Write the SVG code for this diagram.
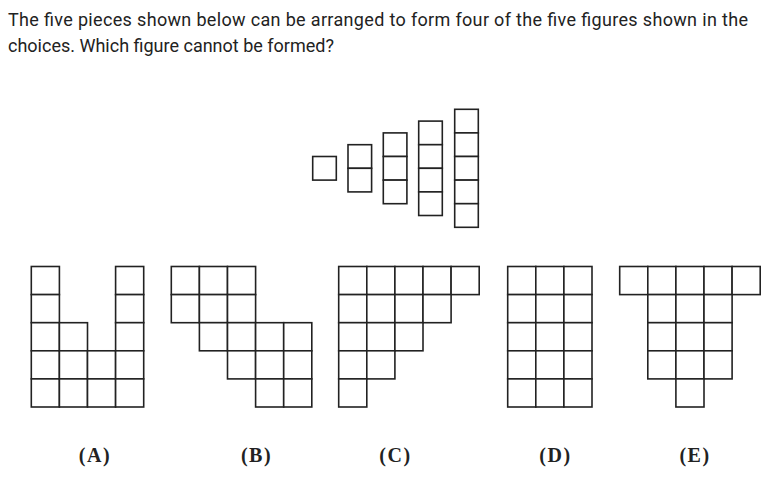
<svg xmlns="http://www.w3.org/2000/svg" xmlns:xlink="http://www.w3.org/1999/xlink" width="784" height="482" viewBox="0 0 784 482">
<style>
.q{font-family:Roboto,"Liberation Sans",sans-serif;font-size:18px;fill:#222}
.lbl{font-family:"Liberation Serif","DejaVu Serif",serif;font-size:20px;font-weight:bold;fill:#222;text-anchor:middle;letter-spacing:1.5px}
.cell{fill:#fff;stroke:#222;stroke-width:1.6}
</style>
<defs>
<rect id="c" class="cell" width="28.1" height="28.1"/>
<rect id="p" class="cell" width="23.6" height="23.6"/>
</defs>
<rect width="784" height="482" fill="#fff"/>
<text class="q" x="8" y="26" textLength="740" lengthAdjust="spacing">The five pieces shown below can be arranged to form four of the five figures shown in the</text>
<text class="q" x="8" y="52">choices. Which figure cannot be formed?</text>

<g id="pieces">
<g id="piece1"><use href="#p" x="312.7" y="156.5"/></g>
<g id="piece2"><use href="#p" x="348" y="144.7"/><use href="#p" x="348" y="168.3"/></g>
<g id="piece3"><use href="#p" x="383.3" y="132.9"/><use href="#p" x="383.3" y="156.5"/><use href="#p" x="383.3" y="180.1"/></g>
<g id="piece4"><use href="#p" x="418.7" y="121.1"/><use href="#p" x="418.7" y="144.7"/><use href="#p" x="418.7" y="168.3"/><use href="#p" x="418.7" y="191.9"/></g>
<g id="piece5"><use href="#p" x="454.7" y="109.3"/><use href="#p" x="454.7" y="132.9"/><use href="#p" x="454.7" y="156.5"/><use href="#p" x="454.7" y="180.1"/><use href="#p" x="454.7" y="203.7"/></g>
</g>

<g id="figA">
<use href="#c" x="31.3" y="266.5"/><use href="#c" x="31.3" y="294.6"/><use href="#c" x="31.3" y="322.7"/><use href="#c" x="31.3" y="350.8"/><use href="#c" x="31.3" y="378.9"/>
<use href="#c" x="59.4" y="322.7"/><use href="#c" x="59.4" y="350.8"/><use href="#c" x="59.4" y="378.9"/>
<use href="#c" x="87.5" y="350.8"/><use href="#c" x="87.5" y="378.9"/>
<use href="#c" x="115.6" y="266.5"/><use href="#c" x="115.6" y="294.6"/><use href="#c" x="115.6" y="322.7"/><use href="#c" x="115.6" y="350.8"/><use href="#c" x="115.6" y="378.9"/>
</g>

<g id="figB">
<use href="#c" x="171.3" y="266.5"/><use href="#c" x="199.4" y="266.5"/><use href="#c" x="227.5" y="266.5"/>
<use href="#c" x="171.3" y="294.6"/><use href="#c" x="199.4" y="294.6"/><use href="#c" x="227.5" y="294.6"/>
<use href="#c" x="199.4" y="322.7"/><use href="#c" x="227.5" y="322.7"/><use href="#c" x="255.6" y="322.7"/><use href="#c" x="283.7" y="322.7"/>
<use href="#c" x="227.5" y="350.8"/><use href="#c" x="255.6" y="350.8"/><use href="#c" x="283.7" y="350.8"/>
<use href="#c" x="255.6" y="378.9"/><use href="#c" x="283.7" y="378.9"/>
</g>

<g id="figC">
<use href="#c" x="338.7" y="266.5"/><use href="#c" x="366.8" y="266.5"/><use href="#c" x="394.9" y="266.5"/><use href="#c" x="423" y="266.5"/><use href="#c" x="451.1" y="266.5"/>
<use href="#c" x="338.7" y="294.6"/><use href="#c" x="366.8" y="294.6"/><use href="#c" x="394.9" y="294.6"/><use href="#c" x="423" y="294.6"/>
<use href="#c" x="338.7" y="322.7"/><use href="#c" x="366.8" y="322.7"/><use href="#c" x="394.9" y="322.7"/>
<use href="#c" x="338.7" y="350.8"/><use href="#c" x="366.8" y="350.8"/>
<use href="#c" x="338.7" y="378.9"/>
</g>

<g id="figD">
<use href="#c" x="507.7" y="266.5"/><use href="#c" x="535.8" y="266.5"/><use href="#c" x="563.9" y="266.5"/>
<use href="#c" x="507.7" y="294.6"/><use href="#c" x="535.8" y="294.6"/><use href="#c" x="563.9" y="294.6"/>
<use href="#c" x="507.7" y="322.7"/><use href="#c" x="535.8" y="322.7"/><use href="#c" x="563.9" y="322.7"/>
<use href="#c" x="507.7" y="350.8"/><use href="#c" x="535.8" y="350.8"/><use href="#c" x="563.9" y="350.8"/>
<use href="#c" x="507.7" y="378.9"/><use href="#c" x="535.8" y="378.9"/><use href="#c" x="563.9" y="378.9"/>
</g>

<g id="figE">
<use href="#c" x="619.7" y="266.5"/><use href="#c" x="647.8" y="266.5"/><use href="#c" x="675.9" y="266.5"/><use href="#c" x="704" y="266.5"/><use href="#c" x="732.1" y="266.5"/>
<use href="#c" x="647.8" y="294.6"/><use href="#c" x="675.9" y="294.6"/><use href="#c" x="704" y="294.6"/>
<use href="#c" x="647.8" y="322.7"/><use href="#c" x="675.9" y="322.7"/><use href="#c" x="704" y="322.7"/>
<use href="#c" x="647.8" y="350.8"/><use href="#c" x="675.9" y="350.8"/><use href="#c" x="704" y="350.8"/>
<use href="#c" x="675.9" y="378.9"/>
</g>

<g id="labels">
<text class="lbl" x="95" y="461.5">(A)</text>
<text class="lbl" x="256.5" y="461.5">(B)</text>
<text class="lbl" x="395.5" y="461.5">(C)</text>
<text class="lbl" x="555.5" y="461.5">(D)</text>
<text class="lbl" x="695" y="461.5">(E)</text>
</g>
</svg>
